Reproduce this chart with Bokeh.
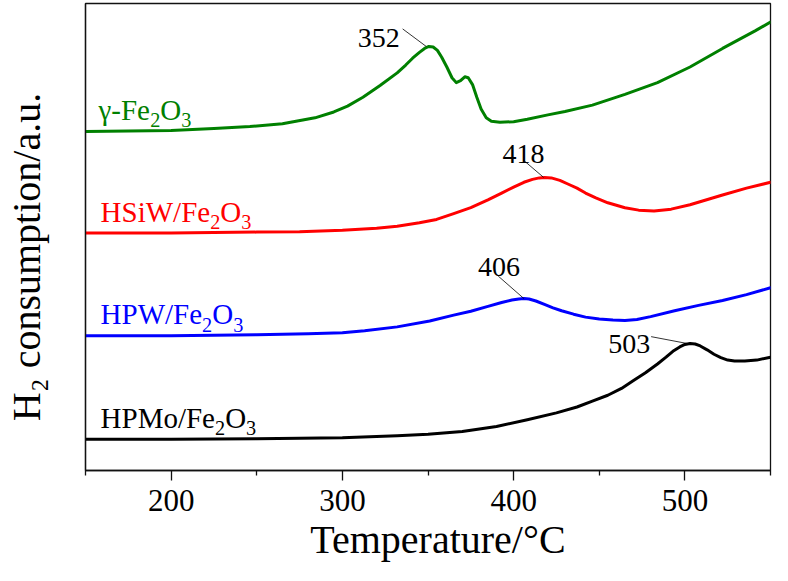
import math
from bokeh.plotting import figure
from bokeh.models import Range1d, FixedTicker, Label, ColumnDataSource
from bokeh.embed import file_html
from bokeh.resources import INLINE
from bokeh.core.properties import value

FONT = "'Liberation Serif', 'Times New Roman', Times, serif"
AXFONT = "serif"

# ---------------- data ----------------
green_T = [150, 175, 200, 225, 246, 265, 284, 295, 303, 312, 322, 332, 337, 341, 345, 348, 350.5,
           353, 355.5, 358, 361, 364, 366.5, 369, 371.5, 373.5, 376, 378.5, 381, 384, 387, 392,
           400, 408, 420, 430, 446, 465, 484, 503, 522, 541, 550]
green_h2 = [3.46, 3.465, 3.47, 3.49, 3.51, 3.54, 3.60, 3.66, 3.72, 3.81, 3.93, 4.06, 4.14, 4.21,
            4.27, 4.31, 4.33, 4.325, 4.29, 4.22, 4.12, 4.01, 3.96, 3.98, 4.02, 4.01, 3.94, 3.81,
            3.69, 3.60, 3.565, 3.555, 3.56, 3.585, 3.63, 3.665, 3.73, 3.84, 3.96, 4.12, 4.31,
            4.49, 4.58]

red_T = [150, 200, 250, 275, 300, 320, 332, 345, 355, 365, 375, 385, 393, 400, 406, 411, 415,
         418, 422, 427, 432, 437, 442, 448, 455, 465, 473, 482, 492, 503, 522, 536, 550]
red_h2 = [2.42, 2.42, 2.43, 2.435, 2.45, 2.47, 2.49, 2.525, 2.56, 2.62, 2.68, 2.76, 2.83, 2.89,
          2.94, 2.97, 2.985, 2.99, 2.985, 2.96, 2.92, 2.88, 2.83, 2.78, 2.73, 2.68, 2.655, 2.645,
          2.665, 2.71, 2.81, 2.88, 2.94]

blue_T = [150, 200, 250, 280, 300, 313, 332, 351, 365, 375, 385, 393, 399, 403, 406, 409, 413,
          418, 423, 428, 435, 442, 450, 458, 465, 472, 480, 494, 508, 522, 536, 550]
blue_h2 = [1.37, 1.37, 1.38, 1.39, 1.40, 1.42, 1.46, 1.52, 1.58, 1.62, 1.67, 1.71, 1.735, 1.745,
           1.75, 1.745, 1.725, 1.69, 1.655, 1.625, 1.59, 1.56, 1.54, 1.53, 1.525, 1.535, 1.565,
           1.625, 1.68, 1.73, 1.79, 1.86]

black_T = [150, 200, 250, 300, 332, 350, 370, 390, 408, 425, 437, 446, 455, 463, 470, 477, 484,
           489, 493, 497, 500, 503, 506, 509, 513, 517, 521, 525, 529, 535, 542, 550]
black_h2 = [0.31, 0.31, 0.315, 0.325, 0.345, 0.36, 0.39, 0.44, 0.51, 0.58, 0.64, 0.70, 0.76,
            0.83, 0.91, 0.99, 1.08, 1.15, 1.21, 1.255, 1.28, 1.29, 1.285, 1.265, 1.225, 1.18,
            1.145, 1.12, 1.11, 1.11, 1.12, 1.15]

series_colors = ["#008000", "#ff0000", "#0000ff", "#000000"]
series_label_pieces = [
    [("γ-Fe", "n"), ("2", "sub"), ("O", "n"), ("3", "sub")],
    [("HSiW/Fe", "n"), ("2", "sub"), ("O", "n"), ("3", "sub")],
    [("HPW/Fe", "n"), ("2", "sub"), ("O", "n"), ("3", "sub")],
    [("HPMo/Fe", "n"), ("2", "sub"), ("O", "n"), ("3", "sub")],
]
series_label_T = [157.6, 158.8, 158.8, 158.8]
series_label_y = [3.68, 2.64, 1.59, 0.53]

peak_text = ["352", "418", "406", "503"]
peak_label_T = [309, 393.5, 379.2, 455.2]
peak_label_y = [4.42, 3.23, 2.07, 1.28]
leader_T0 = [335.2, 405.5, 391, 480.3]
leader_y0 = [4.51, 3.17, 1.98, 1.36]
leader_T1 = [349, 417.5, 406, 501.3]
leader_y1 = [4.33, 2.99, 1.75, 1.29]

x_ticks = [200, 300, 400, 500]
x_minor_ticks = [150, 250, 350, 450, 550]
NB = "\u00a0"
x_title = NB * 2 + "Temperature/°C"
y_title = "H₂ consumption/a.u." + NB * 4

# ---------------- figure ----------------
p = figure(width=772, height=565, output_backend="svg", toolbar_location=None,
           x_range=Range1d(150, 550), y_range=Range1d(-0.01, 4.77),
           min_border_left=80, min_border_right=2, min_border_top=3, min_border_bottom=95)
p.background_fill_color = "white"
p.border_fill_color = "white"
p.outline_line_color = "#111111"
p.outline_line_width = 1.3
p.xgrid.visible = False
p.ygrid.visible = False

ax = p.xaxis[0]
ax.ticker = FixedTicker(ticks=x_ticks, minor_ticks=x_minor_ticks)
ax.major_tick_out = 10
ax.major_tick_in = 0
ax.minor_tick_out = 5
ax.minor_tick_in = 0
ax.axis_line_width = 1.3
ax.axis_line_color = "#111111"
ax.major_tick_line_width = 1.3
ax.minor_tick_line_width = 1.3
ax.major_tick_line_color = "#111111"
ax.minor_tick_line_color = "#111111"
ax.major_label_text_font = AXFONT
ax.major_label_text_font_size = "31px"
ax.major_label_text_color = "black"
ax.major_label_standoff = 9
ax.axis_label = x_title
ax.axis_label_text_font = AXFONT
ax.axis_label_text_font_size = "40px"
ax.axis_label_text_font_style = "normal"
ax.axis_label_text_color = "black"
ax.axis_label_standoff = 3

ay = p.yaxis[0]
ay.ticker = FixedTicker(ticks=[])
ay.major_tick_out = 0
ay.major_tick_in = 0
ay.minor_tick_out = 0
ay.minor_tick_in = 0
ay.major_label_standoff = 0
ay.axis_line_width = 1.3
ay.axis_line_color = "#111111"
ay.axis_label = y_title
ay.axis_label_text_font = AXFONT
ay.axis_label_text_font_size = "40px"
ay.axis_label_text_font_style = "normal"
ay.axis_label_text_color = "black"
ay.axis_label_standoff = 37

for T, h, c in [(green_T, green_h2, series_colors[0]), (red_T, red_h2, series_colors[1]),
                (blue_T, blue_h2, series_colors[2]), (black_T, black_h2, series_colors[3])]:
    p.line(T, h, line_color=c, line_width=3, line_join="round", line_cap="round")

# leader lines and peak labels
p.segment(x0=leader_T0, y0=leader_y0, x1=leader_T1, y1=leader_y1, line_color="black", line_width=0.8)
src = ColumnDataSource(dict(x=peak_label_T, y=peak_label_y, t=peak_text))
p.text(x="x", y="y", text="t", source=src, text_font=value(FONT), text_font_size="28px",
       text_color="black", text_align="left", text_baseline="alphabetic")

# ---------------- labels with subscripts ----------------
ADV = {'H': 0.722, ' ': 0.25, 'i': 0.278, '.': 0.25, 'S': 0.556, 'W': 0.944, 'F': 0.556,
       'O': 0.722, 'P': 0.556, 'M': 0.889, 'o': 0.5, 'e': 0.444, '/': 0.278, '2': 0.5, '3': 0.5,
       'γ': 0.45, '-': 0.333}


def rich_label(x, y, pieces, size, color, ratio=0.7, sub_shift=0.36):
    adv = 0.0
    for txt, kind in pieces:
        ps = size if kind == "n" else size * ratio
        sh = 0.0 if kind == "n" else -sub_shift * size
        p.add_layout(Label(x=x, y=y, x_units="data", y_units="data", x_offset=adv, y_offset=sh,
                           text=txt, text_font=FONT, text_font_size=f"{ps:.1f}px",
                           text_color=color, text_align="left", text_baseline="alphabetic"))
        adv += sum(ADV.get(ch, 0.5) for ch in txt) * ps


for pcs, tx, ty, col in zip(series_label_pieces, series_label_T, series_label_y, series_colors):
    rich_label(tx, ty, pcs, 29, col)

open("out.html", "w").write(file_html(p, INLINE))
